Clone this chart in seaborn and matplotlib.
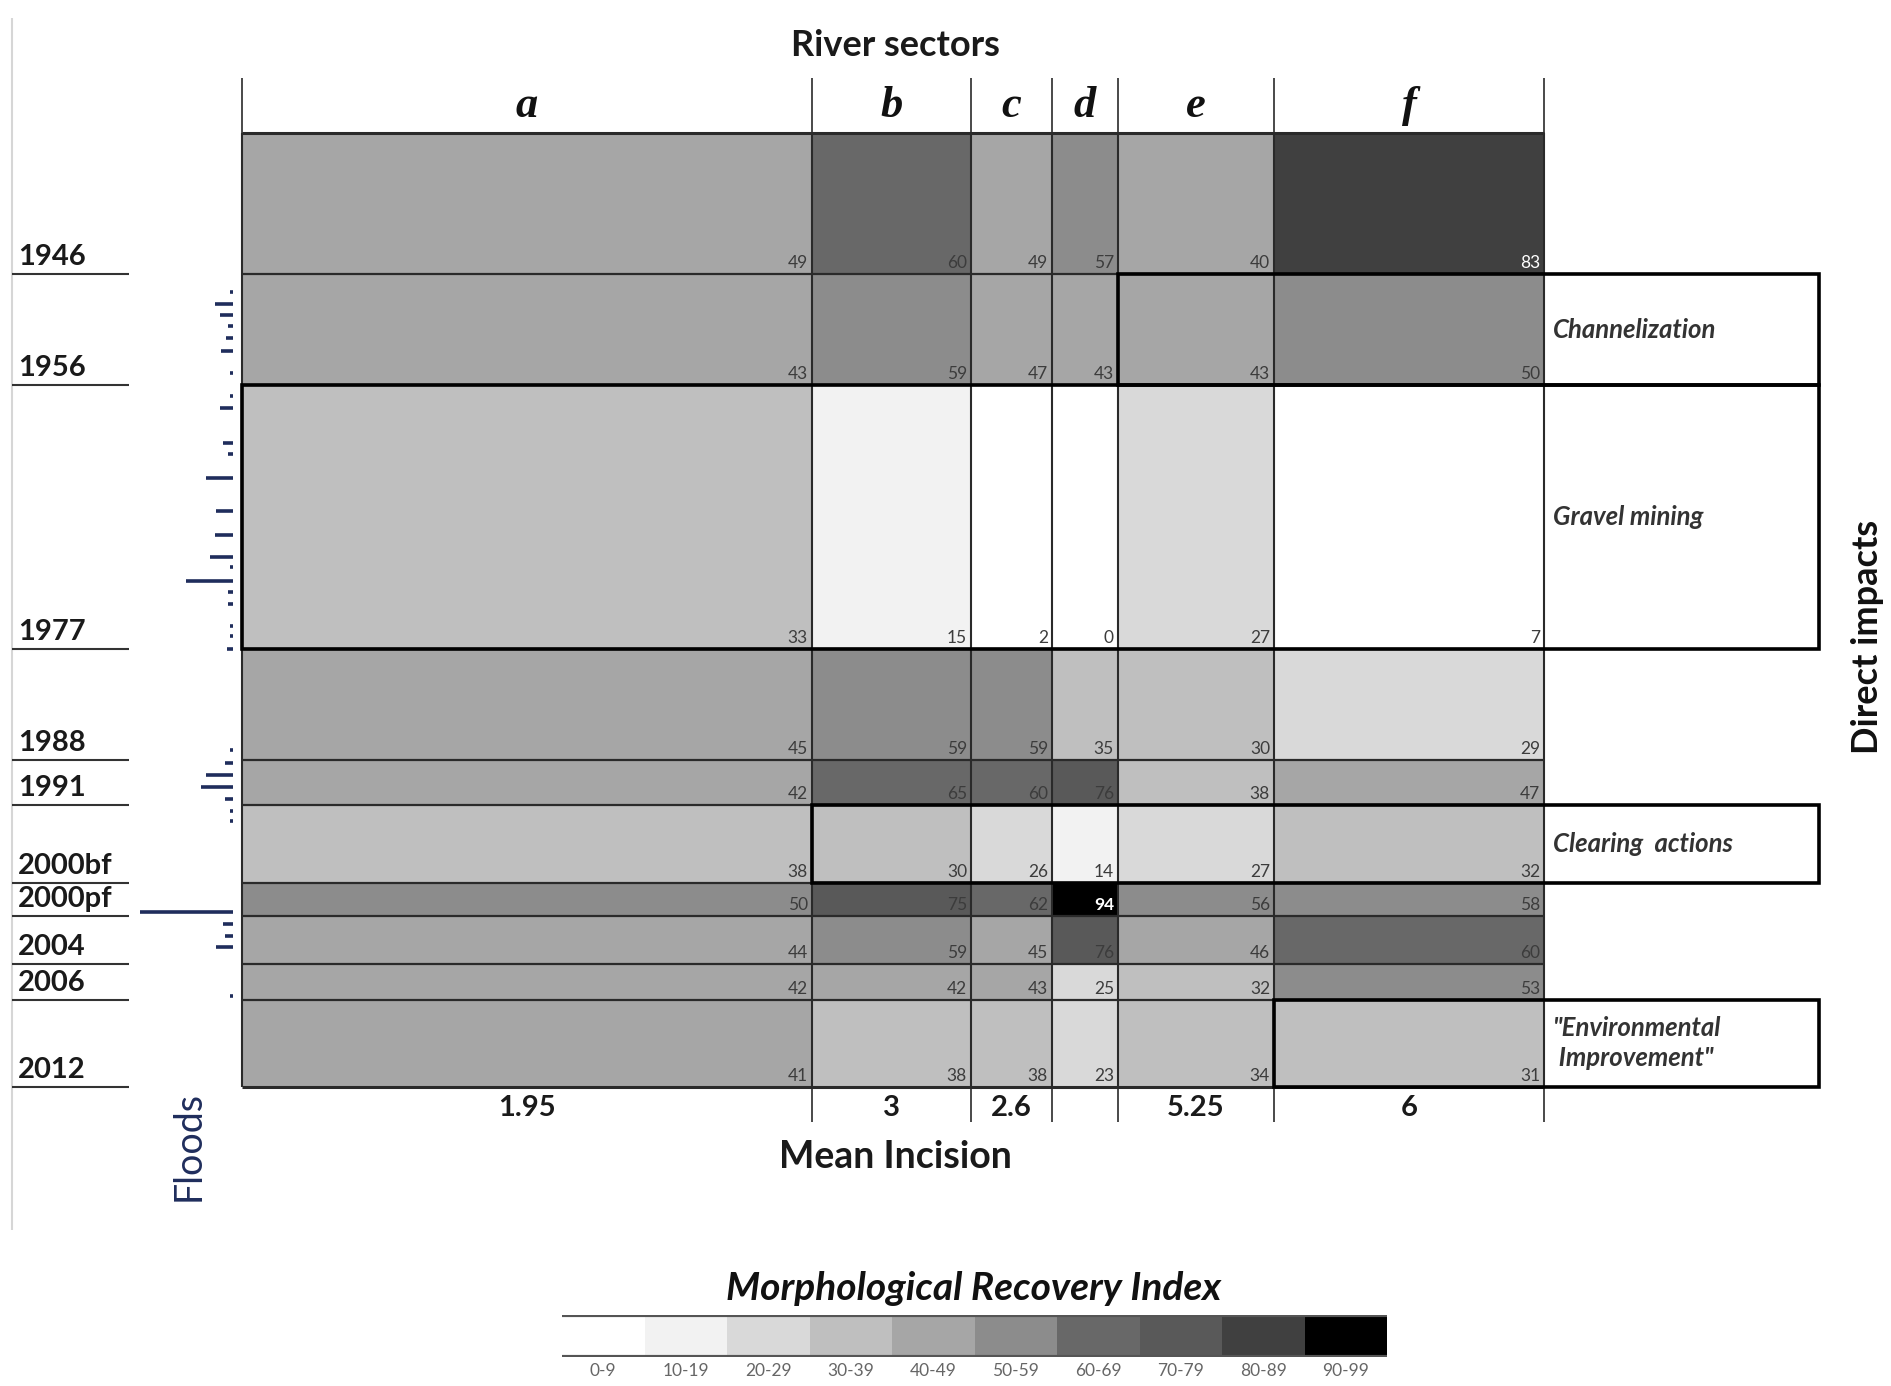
import numpy as np
import matplotlib
matplotlib.use('Agg')
import matplotlib.pyplot as plt
from matplotlib.colors import ListedColormap
from matplotlib.patches import Rectangle
import seaborn as sns

# --- data ---
years = ['1946', '1956', '1977', '1988', '1991', '2000bf', '2000pf', '2004', '2006', '2012']
sectors = ['a', 'b', 'c', 'd', 'e', 'f']
mri = np.array([
    [49, 60, 49, 57, 40, 83],
    [43, 59, 47, 43, 43, 50],
    [33, 15, 2, 0, 27, 7],
    [45, 59, 59, 35, 30, 29],
    [42, 65, 60, 76, 38, 47],
    [38, 30, 26, 14, 27, 32],
    [50, 75, 62, 94, 56, 58],
    [44, 59, 45, 76, 46, 60],
    [42, 42, 43, 25, 32, 53],
    [41, 38, 38, 23, 34, 31],
])
mean_incision = ['1.95', '3', '2.6', '', '5.25', '6']

impacts = ['Channelization', 'Gravel mining', 'Clearing  actions', '"Environmental\n Improvement"']
impact_row = [1, 2, 5, 9]
impact_first_sector = [4, 0, 1, 5]

flood_year = [1947.6, 1948.7, 1949.7, 1950.7, 1951.8, 1952.9, 1954.9, 1956.9, 1957.8, 1960.6,
              1961.5, 1963.4, 1966.0, 1967.9, 1969.7, 1970.5, 1971.6, 1972.5, 1973.4, 1975.2,
              1976.0, 1977.0, 1987.0, 1988.2, 1989.0, 1989.8, 1990.6, 1991.7, 1992.8, 2000.8,
              2001.4, 2002.2, 2002.9, 2005.8]
flood_peak = [3, 18, 13, 5, 7, 12, 3, 3, 13, 10,
              5, 27, 17, 18, 23, 3, 47, 5, 5, 3,
              3, 6, 3, 8, 27, 32, 8, 3, 3, 93,
              10, 8, 17, 3]

bin_labels = ['0-9', '10-19', '20-29', '30-39', '40-49', '50-59', '60-69', '70-79', '80-89', '90-99']
bin_mid = [5, 15, 25, 35, 45, 55, 65, 75, 85, 95]
grays = ['#ffffff', '#f2f2f2', '#d9d9d9', '#bfbfbf', '#a6a6a6',
         '#8c8c8c', '#686868', '#595959', '#404040', '#000000']

# --- layout (pixels) ---
W, H = 1891, 1386
X0, Y0, U = 242, 133, 3
col_units = [190, 53, 27, 22, 52, 90]
row_units = [47, 37, 88, 37, 15, 26, 11, 16, 12, 29]
row_end_year = [1936, 1946, 1956, 1977, 1988, 1991, 2000.0, 2000.9, 2004, 2006, 2012]
xb = X0 + U * np.concatenate([[0], np.cumsum(col_units)])
yb = Y0 + U * np.concatenate([[0], np.cumsum(row_units)])
XR = 1819
FLOOD_X = 233
navy = '#1f2d5c'

sns.set_theme(style='white')
plt.rcParams['font.family'] = ['Lato', 'DejaVu Sans']

cmap = ListedColormap(grays)
fig = plt.figure(figsize=(W / 100, H / 100), dpi=100)

# main grid: repeat cells so widths/heights follow sectors and periods
big = np.repeat(np.repeat(mri, row_units, axis=0), col_units, axis=1)
ax = fig.add_axes([xb[0] / W, 1 - yb[-1] / H, (xb[-1] - xb[0]) / W, (yb[-1] - yb[0]) / H])
sns.heatmap(big, cmap=cmap, vmin=0, vmax=100, cbar=False,
            xticklabels=False, yticklabels=False, ax=ax)

# overlay in pixel coords
ov = fig.add_axes([0, 0, 1, 1], zorder=3)
ov.set_xlim(0, W)
ov.set_ylim(H, 0)
ov.axis('off')

ov.vlines(12, 18, 1230, color='#d6d6d6', lw=1.5)

for y in yb[1:-1]:
    ov.hlines(y, xb[0], xb[-1], color='#2a2a2a', lw=1.6)
ov.hlines([yb[0], yb[-1]], xb[0], xb[-1], color='#2a2a2a', lw=2.2)
ov.vlines(xb, yb[0], yb[-1], color='#2a2a2a', lw=1.5)
ov.vlines(xb, 78, yb[0], color='#2a2a2a', lw=1.2)
ov.vlines(xb[1:], yb[-1], 1122, color='#2a2a2a', lw=1.2)

for i in range(len(years)):
    for j in range(len(sectors)):
        v = mri[i, j]
        c = 'white' if v >= 80 else '#3c3c3c'
        ov.text(xb[j + 1] - 4, yb[i + 1] - 3, str(v), ha='right', va='bottom',
                fontsize=12.5, color=c, fontweight='bold' if v >= 90 else 'normal')

# direct impact boxes
for lab, r, c0 in zip(impacts, impact_row, impact_first_sector):
    ov.add_patch(Rectangle((xb[c0], yb[r]), XR - xb[c0], yb[r + 1] - yb[r],
                           fill=False, ec='black', lw=2.6, zorder=4))
    ov.text(1553, (yb[r] + yb[r + 1]) / 2, lab, ha='left', va='center',
            style='italic', fontweight='bold', fontsize=18.5, color='#333333',
            linespacing=1.3)
ov.text(1867, 637, 'Direct impacts', rotation=90, ha='center', va='center',
        fontsize=26, fontweight='bold', color='#111111')

# year labels
for i, yr in enumerate(years):
    ov.text(18, yb[i + 1] - 4, yr, ha='left', va='bottom', fontsize=21,
            fontweight='bold', color='#1a1a1a')
    ov.hlines(yb[i + 1], 12, 129, color='#333333', lw=1.5)

# floods
fy = np.interp(flood_year, row_end_year, yb)
ov.hlines(fy, FLOOD_X - np.array(flood_peak), FLOOD_X, color=navy, lw=2.6)
ov.text(189, 1146, 'Floods', rotation=90, ha='center', va='center',
        fontsize=27, color=navy)

# sectors on top
ov.text(895, 46, 'River sectors', ha='center', va='center', fontsize=26,
        fontweight='bold', color='#1a1a1a')
for j, s in enumerate(sectors):
    ov.text((xb[j] + xb[j + 1]) / 2, 106, s, ha='center', va='center', fontsize=32,
            family='Liberation Serif', style='italic', fontweight='bold', color='#111111')

# mean incision
for j, m in enumerate(mean_incision):
    ov.text((xb[j] + xb[j + 1]) / 2, 1108, m, ha='center', va='center', fontsize=21,
            fontweight='bold', color='#1a1a1a')
ov.text(895, 1157, 'Mean Incision', ha='center', va='center', fontsize=27,
        fontweight='bold', color='#1a1a1a')

# legend bar
cax = fig.add_axes([562 / W, 1 - 1357 / H, 825 / W, 42 / H])
sns.heatmap(np.array([bin_mid]), cmap=cmap, vmin=0, vmax=100, cbar=False,
            xticklabels=bin_labels, yticklabels=False, ax=cax)
cax.tick_params(axis='x', length=0, labelsize=12.5, labelcolor='#666666', pad=4)
cax.axhline(0, color='#555555', lw=3)
cax.axhline(1, color='#555555', lw=3)
ov.text(974, 1288, 'Morphological Recovery Index', ha='center', va='center',
        fontsize=28, fontweight='bold', style='italic', color='#111111')

fig.savefig('out.png', dpi=100)
